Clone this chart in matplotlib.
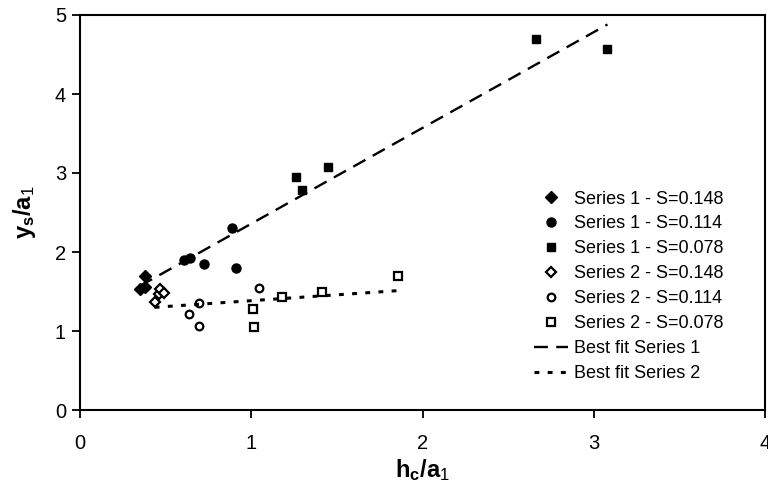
import matplotlib
matplotlib.use("Agg")
import matplotlib.pyplot as plt

plt.rcParams['font.family'] = ['Liberation Sans', 'DejaVu Sans']
plt.rcParams['mathtext.fontset'] = 'custom'
plt.rcParams['mathtext.rm'] = 'Liberation Sans'
plt.rcParams['mathtext.bf'] = 'Liberation Sans:bold'
plt.rcParams['mathtext.it'] = 'Liberation Sans:italic'
plt.rcParams['lines.scale_dashes'] = False

# ---- data ----
s1_148_x = [0.35, 0.38, 0.38]
s1_148_y = [1.53, 1.56, 1.70]
s1_114_x = [0.61, 0.644, 0.727, 0.913, 0.888]
s1_114_y = [1.90, 1.93, 1.85, 1.80, 2.31]
s1_078_x = [1.264, 1.299, 1.45, 2.66, 3.077]
s1_078_y = [2.945, 2.79, 3.07, 4.70, 4.565]
s2_148_x = [0.436, 0.461, 0.469, 0.488]
s2_148_y = [1.363, 1.468, 1.528, 1.485]
s2_114_x = [0.694, 0.636, 0.693, 1.043]
s2_114_y = [1.35, 1.21, 1.067, 1.548]
s2_078_x = [1.008, 1.017, 1.182, 1.415, 1.857]
s2_078_y = [1.275, 1.047, 1.427, 1.50, 1.70]
fit1_x = [0.35, 3.08]
fit1_y = [1.57, 4.88]
fit2_x = [0.436, 1.85]
fit2_y = [1.30, 1.51]

xticks = [0, 1, 2, 3, 4]
yticks = [0, 1, 2, 3, 4, 5]

fig = plt.figure(figsize=(7.68, 4.90), dpi=100)
ax = fig.add_axes([80/768, 1-410/490, (765-80)/768, (410-15)/490])

ax.plot(s1_148_x, s1_148_y, ls='none', marker='D', ms=6.5, mfc='black', mec='black', label='Series 1 - S=0.148')
ax.plot(s1_114_x, s1_114_y, ls='none', marker='o', ms=6.5, mfc='black', mec='black', label='Series 1 - S=0.114')
ax.plot(s1_078_x, s1_078_y, ls='none', marker='s', ms=6, mfc='black', mec='black', label='Series 1 - S=0.078')
ax.plot(s2_148_x, s2_148_y, ls='none', marker='D', ms=5.5, mfc='white', mec='black', mew=1.6, label='Series 2 - S=0.148')
ax.plot(s2_114_x, s2_114_y, ls='none', marker='o', ms=5.5, mfc='white', mec='black', mew=1.6, label='Series 2 - S=0.114')
ax.plot(s2_078_x, s2_078_y, ls='none', marker='s', ms=6, mfc='white', mec='black', mew=1.6, label='Series 2 - S=0.078')
ax.plot(fit1_x, fit1_y, color='black', lw=1.7, ls=(0, (10, 6)), label='Best fit Series 1')
ax.plot(fit2_x, fit2_y, color='black', lw=2.2, ls=(0, (3.5, 6)), label='Best fit Series 2')

ax.set_xlim(0, 4)
ax.set_ylim(0, 5)
ax.set_xticks(xticks)
ax.set_yticks(yticks)
ax.tick_params(direction='out', length=6, width=1.3, labelsize=14.5)
ax.tick_params(axis='x', pad=11)
ax.tick_params(axis='y', pad=4)
for sp in ax.spines.values():
    sp.set_linewidth(1.5)

ax.set_xlabel(r'$\mathbf{h_c/a}_1$', fontsize=17, labelpad=3)
ax.set_ylabel(r'$\mathbf{y_s/a}_1$', fontsize=17, labelpad=12)

leg = ax.legend(loc='upper left', bbox_to_anchor=(534/768, 1-190.5/490), bbox_transform=fig.transFigure,
                frameon=False, fontsize=13, borderpad=0, borderaxespad=0,
                handlelength=1.9, handletextpad=0.3, labelspacing=0.44)

fig.savefig('out.png', dpi=100)
